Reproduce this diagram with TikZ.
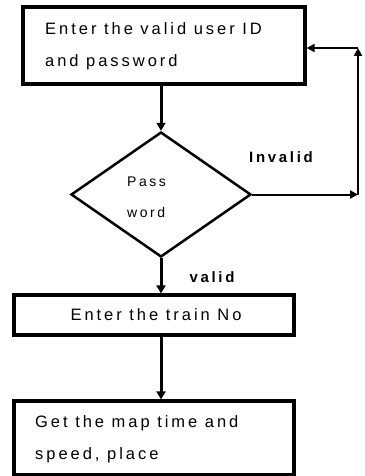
\documentclass[tikz,border=0pt]{standalone}
\usepackage{fontspec}
\setmainfont{Liberation Sans}[LetterSpace=18]
\usetikzlibrary{shapes.geometric,arrows.meta}
\begin{document}
\begin{tikzpicture}[x=1pt,y=-1pt,
  box/.style={draw,line width=3.2pt,inner sep=0pt},
  lbl/.style={font=\fontsize{16.5}{32}\selectfont,inner sep=0pt},
  flow/.style={line width=3pt,-{Triangle[length=8pt,width=9pt]}},
  thin/.style={line width=2pt,-{Triangle[length=8pt,width=8pt]}}]
\useasboundingbox (0,0) rectangle (364,476);
\node[box,minimum width=282pt,minimum height=77pt] (b1) at (164,45.5) {};
\node[lbl,anchor=west,align=left] (t1) at (45,46.5) {Enter the valid user ID\\and password};
\node[draw,diamond,line width=2.5pt,minimum width=180pt,minimum height=125pt,inner sep=0pt] (d) at (161,194.5) {};
\node[lbl,anchor=west,align=left,font=\fontsize{14}{31}\selectfont] (dt) at (127,197.5) {Pass\\word};
\node[box,minimum width=280pt,minimum height=40pt] (b2) at (154,315) {};
\node[lbl] (t2) at (156,315) {Enter the train No};
\node[box,minimum width=280pt,minimum height=74pt] (b3) at (154,438) {};
\node[lbl,anchor=west,align=left] (t3) at (35,439) {Get the map time and\\speed, place};
\node[lbl,font=\bfseries\fontsize{15}{18}\selectfont] (inv) at (281,157) {Invalid};
\node[lbl,font=\bfseries\fontsize{15}{18}\selectfont] (val) at (212,277) {valid};
\coordinate (c1) at (358,194.5);
\coordinate (c2) at (358,48);
\draw[flow] (b1.south -| d.north) -- (d.north);
\draw[thin] (d.east) -- (c1);
\draw[thin] (c1) -- (c2);
\draw[thin] (c2) -- (c2 -| b1.east);
\draw[flow] (d.south) -- (d.south |- b2.north);
\draw[flow] (b2.south -| d.south) -- (d.south |- b3.north);
\end{tikzpicture}
\end{document}
